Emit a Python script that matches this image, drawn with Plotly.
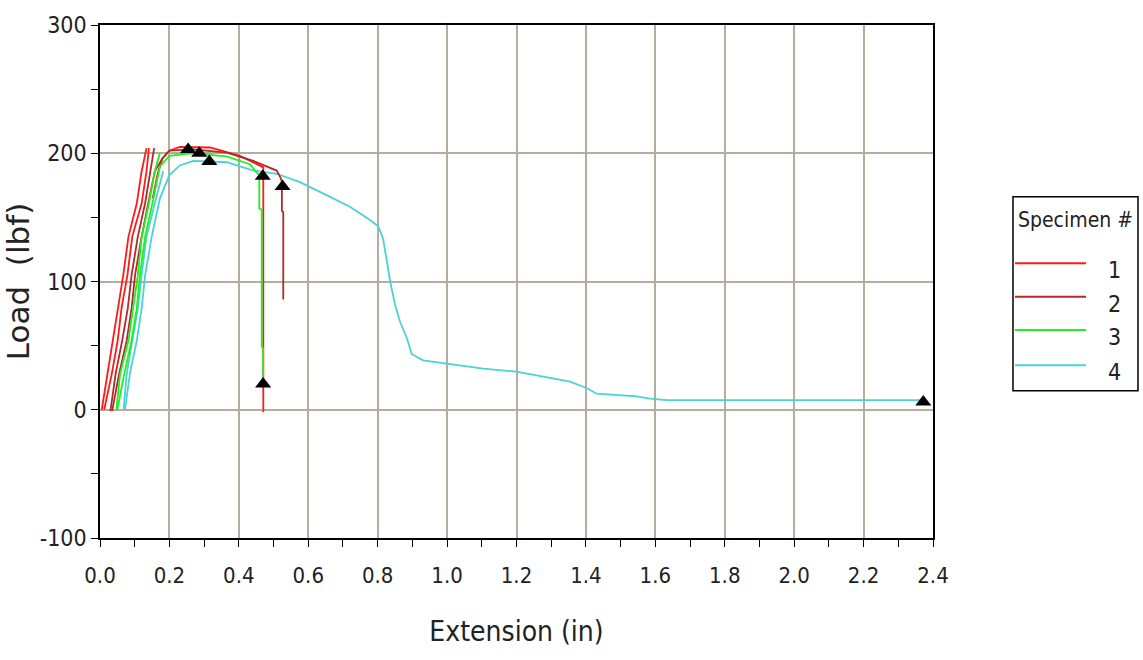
import plotly.graph_objects as go

# ---------------- data ----------------
# Specimen 1 (red): two rising rails + plateau/break branch
s1_rail_a_x = [0.005, 0.022, 0.038, 0.053, 0.067, 0.082, 0.106, 0.120, 0.134]
s1_rail_a_y = [0, 28, 54, 79, 105, 135, 161, 186, 204]
s1_rail_b_x = [0.012, 0.034, 0.051, 0.062, 0.079, 0.093, 0.120, 0.134, 0.141]
s1_rail_b_y = [0, 28, 54, 79, 105, 135, 161, 186, 204]
s1_main_x = [0.152, 0.167, 0.180, 0.200, 0.230, 0.317, 0.403, 0.461, 0.4705, 0.4705]
s1_main_y = [165, 185, 196, 202, 205, 204.5, 198, 190, 189, -2]

# Specimen 2 (dark red)
s2_rail_a_x = [0.030, 0.045, 0.064, 0.080, 0.091, 0.109, 0.130, 0.144, 0.156]
s2_rail_a_y = [-1, 28, 54, 79, 105, 135, 161, 186, 204]
s2_main_x = [0.035, 0.055, 0.077, 0.091, 0.101, 0.120, 0.139, 0.158, 0.180, 0.200,
             0.268, 0.365, 0.442, 0.509, 0.520, 0.524, 0.524, 0.528, 0.528]
s2_main_y = [-1, 28, 54, 79, 105, 135, 161, 186, 196, 202,
             203, 200.5, 194, 186.5, 181, 178, 155, 154, 86]

# Specimen 3 (green)
s3_rail_a_x = [0.047, 0.058, 0.082, 0.096, 0.109, 0.120, 0.141, 0.158, 0.173]
s3_rail_a_y = [0, 28, 54, 79, 105, 135, 161, 186, 200.5]
s3_main_x = [0.050, 0.070, 0.091, 0.106, 0.115, 0.130, 0.151, 0.168, 0.173, 0.200,
             0.260, 0.365, 0.432, 0.451, 0.459, 0.459, 0.466, 0.466, 0.470, 0.470]
s3_main_y = [0, 28, 54, 79, 105, 135, 161, 182, 190, 198,
             200, 197.5, 191.5, 185, 183, 157, 156, 49, 48, 19]

# Specimen 4 (cyan)
s4_rail_a_x = [0.068, 0.077, 0.093, 0.109, 0.120, 0.134, 0.158, 0.182]
s4_rail_a_y = [0, 28, 54, 79, 105, 135, 161, 186]
s4_main_x = [0.072, 0.086, 0.106, 0.120, 0.130, 0.149, 0.173, 0.200, 0.230, 0.269,
             0.365, 0.442, 0.509, 0.576, 0.663, 0.720, 0.778, 0.802, 0.816, 0.826,
             0.836, 0.850, 0.864, 0.884, 0.898, 0.931, 0.999, 1.104, 1.200, 1.306,
             1.354, 1.402, 1.431, 1.546, 1.585, 1.633, 2.372]
s4_main_y = [0, 28, 54, 79, 105, 135, 165, 183, 190.5, 194,
             193, 186.5, 184, 177.5, 166, 158.3, 148, 143, 133, 117.5,
             100, 82, 69, 56, 43.5, 38.5, 36, 32, 29.7, 24.5,
             22, 17, 12.5, 10.5, 8.6, 7.5, 7.5]

# Break / peak markers
marker_x = [0.254, 0.286, 0.315, 0.469, 0.526, 0.470, 2.372]
marker_y = [203, 200, 193.5, 182, 174, 20, 6]

specimen_names = ["1", "2", "3", "4"]
specimen_colors = ["#ff1a1a", "#b02a2a", "#22ee22", "#4ad3d3"]

x_ticks = [0.0, 0.2, 0.4, 0.6, 0.8, 1.0, 1.2, 1.4, 1.6, 1.8, 2.0, 2.2, 2.4]
x_tick_text = ["0.0", "0.2", "0.4", "0.6", "0.8", "1.0", "1.2", "1.4", "1.6", "1.8", "2.0", "2.2", "2.4"]
y_ticks = [-100, 0, 100, 200, 300]
y_tick_text = ["-100", "0", "100", "200", "300"]

# ---------------- figure ----------------
FONT = "DejaVu Sans Condensed, Liberation Sans Narrow, DejaVu Sans, sans-serif"


def join(*parts):
    xs, ys = [], []
    for i, (px, py) in enumerate(parts):
        if i:
            xs.append(None)
            ys.append(None)
        xs.extend(px)
        ys.extend(py)
    return xs, ys


series = {
    "1": join((s1_rail_a_x, s1_rail_a_y), (s1_rail_b_x, s1_rail_b_y), (s1_main_x, s1_main_y)),
    "2": join((s2_rail_a_x, s2_rail_a_y), (s2_main_x, s2_main_y)),
    "3": join((s3_rail_a_x, s3_rail_a_y), (s3_main_x, s3_main_y)),
    "4": join((s4_rail_a_x, s4_rail_a_y), (s4_main_x, s4_main_y)),
}

fig = go.Figure()
draw_order = ["4", "1", "2", "3"]
for name in draw_order:
    xs, ys = series[name]
    col = specimen_colors[specimen_names.index(name)]
    fig.add_trace(go.Scatter(x=xs, y=ys, mode="lines", name=name,
                             line=dict(color=col, width=1.8),
                             connectgaps=False, showlegend=False))

fig.add_trace(go.Scatter(x=marker_x, y=marker_y, mode="markers",
                         marker=dict(symbol="triangle-up", size=14, color="black"),
                         showlegend=False))

grid_col = "#b5ae9f"
fig.update_xaxes(range=[0, 2.4], tickvals=x_ticks, ticktext=x_tick_text,
                 showgrid=True, gridcolor=grid_col, gridwidth=2,
                 showline=True, linecolor="black", linewidth=1.5, mirror=True,
                 ticks="outside", ticklen=7, tickcolor="black", tickwidth=1.2,
                 ticklabelstandoff=10,
                 minor=dict(dtick=0.1, tick0=0, ticks="outside", ticklen=7,
                            tickcolor="black", tickwidth=1.2, showgrid=False),
                 zeroline=False,
                 tickfont=dict(family=FONT, size=22, color="#222"),
                 title=dict(text="Extension (in)", font=dict(family=FONT, size=28, color="#222"),
                            standoff=34))
fig.update_yaxes(range=[-100, 300], tickvals=y_ticks, ticktext=y_tick_text,
                 showgrid=True, gridcolor=grid_col, gridwidth=2,
                 showline=True, linecolor="black", linewidth=1.5, mirror=True,
                 ticks="outside", ticklen=7, tickcolor="black", tickwidth=1.2,
                 minor=dict(dtick=50, tick0=0, ticks="outside", ticklen=7,
                            tickcolor="black", tickwidth=1.2, showgrid=False),
                 zeroline=False,
                 tickfont=dict(family=FONT, size=23, color="#222"),
                 title=dict(text="Load  (lbf)", font=dict(family="DejaVu Sans, sans-serif", size=31, color="#222"),
                            standoff=5))

# Manual legend box (paper coordinates derived from pixel layout)
W, H = 1143, 660
ml, mr, mt, mb = 100, 210, 15, 122
pw, ph = W - ml - mr, H - mt - mb


def px_to_paper(px, py):
    return (px - ml) / pw, 1 - (py - mt) / ph


x0, y0 = px_to_paper(1013, 190)
x1, y1 = px_to_paper(1138, 388)
fig.add_shape(type="rect", xref="paper", yref="paper", x0=x0, y0=y1, x1=x1, y1=y0,
              line=dict(color="black", width=1.5), fillcolor="white")
tx, ty = px_to_paper(1075, 214)
fig.add_annotation(xref="paper", yref="paper", x=tx, y=ty, text="Specimen #", showarrow=False,
                   font=dict(family=FONT, size=21, color="#222"), xanchor="center", yanchor="middle")
line_ys = [258, 292, 326, 362]
for name, col, ly in zip(specimen_names, specimen_colors, line_ys):
    lx0, lyp = px_to_paper(1015, ly)
    lx1, _ = px_to_paper(1086, ly)
    fig.add_shape(type="line", xref="paper", yref="paper", x0=lx0, x1=lx1, y0=lyp, y1=lyp,
                  line=dict(color=col, width=2))
    nx, ny = px_to_paper(1114, ly + 7)
    fig.add_annotation(xref="paper", yref="paper", x=nx, y=ny, text=name, showarrow=False,
                       font=dict(family=FONT, size=23, color="#222"), xanchor="center", yanchor="middle")

fig.update_layout(width=W, height=H, margin=dict(l=ml, r=mr, t=mt, b=mb),
                  paper_bgcolor="white", plot_bgcolor="white", showlegend=False)

fig.write_html("out.html")
